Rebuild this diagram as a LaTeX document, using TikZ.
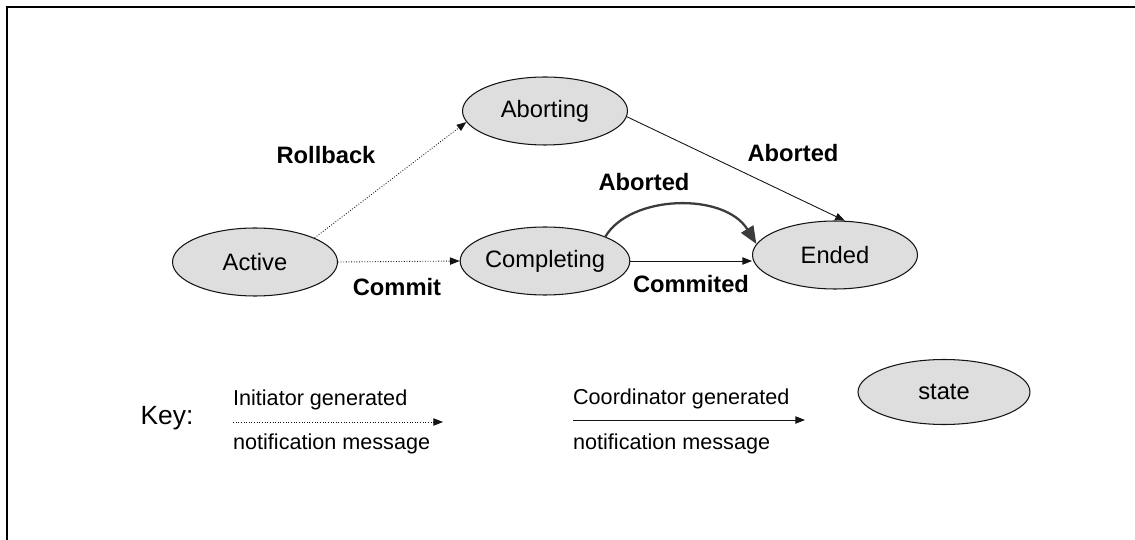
\documentclass[tikz,border=0pt]{standalone}
\usepackage{fontspec}
\setmainfont{Liberation Sans}
\usepackage{tikz}
\usetikzlibrary{positioning,arrows.meta,shapes.geometric}
\definecolor{statec}{RGB}{222,222,222}
\definecolor{linec}{RGB}{20,20,20}
\definecolor{arcc}{RGB}{60,60,60}
\newcommand{\statesize}{\fontsize{13.5}{15}\selectfont}
\newcommand{\keysize}{\fontsize{12.3}{14}\selectfont}
\tikzset{
  state/.style     = {ellipse, draw=linec, line width=0.6pt, fill=statec,
                      minimum width=3.3cm, minimum height=1.36cm, inner sep=0pt,
                      font=\statesize},
  msg/.style       = {font=\statesize\bfseries, inner sep=1pt},
  keytxt/.style    = {font=\keysize, inner sep=1pt, anchor=west},
  initflow/.style  = {-{Triangle[length=5.5pt,width=4.2pt]}, line width=0.5pt, densely dotted, draw=linec},
  coordflow/.style = {-{Triangle[length=5.5pt,width=4.2pt]}, line width=0.5pt, draw=linec},
  bigflow/.style   = {-{Triangle[length=10pt,width=8pt]}, line width=1.3pt, draw=arcc},
}

\begin{document}
\begin{tikzpicture}[x=0.02cm, y=-0.02cm]
\useasboundingbox (0,0) rectangle (1135,540);

% ---- frame ----
\draw[line width=0.8pt] (7,540) -- (7,7) -- (1135,7);

% ---- states ----
\node[state] (active)     at (255,262) {Active};
\node[state] (aborting)   at (545,111) {Aborting};
\node[state] (completing) at (545,261) {Completing};
\node[state] (ended)      at (835,255) {Ended};

% ---- transitions ----
\draw[initflow] (active.22) -- (aborting.188);
\draw[initflow] (active.east) -- (completing.west);
\draw[coordflow] (aborting.-4) -- (ended.74);
\draw[coordflow] (completing.east) -- (ended.west |- completing.east);
\draw[bigflow] (completing.22) .. controls +(25,-42) and +(-32,-52) .. (ended.172);

\node[msg] (rollback) at (326,155) {Rollback};
\node[msg] (commit)   at (397,287) {Commit};
\node[msg] (abortedb) at (793,153) {Aborted};
\node[msg] (aborteda) at (644,182) {Aborted};
\node[msg] (commited) at (691,284) {Commited};

% ---- key ----
\node[font=\fontsize{15}{17}\selectfont] (key) at (167,418) {Key:};

\coordinate (inistart) at (233,422);
\coordinate (iniend)   at (443,422);
\draw[initflow] (inistart) -- (iniend);
\node[keytxt] (initop) at (231,400) {Initiator generated};
\node[keytxt] (inibot) at (231,444) {notification message};

\coordinate (coostart) at (573,420);
\coordinate (cooend)   at (805,420);
\draw[coordflow] (coostart) -- (cooend);
\node[keytxt] (cootop) at (571,399) {Coordinator generated};
\node[keytxt] (coobot) at (571,444) {notification message};

\node[state, minimum width=3.44cm, minimum height=1.3cm] (keystate) at (944,392) {state};

\end{tikzpicture}
\end{document}
